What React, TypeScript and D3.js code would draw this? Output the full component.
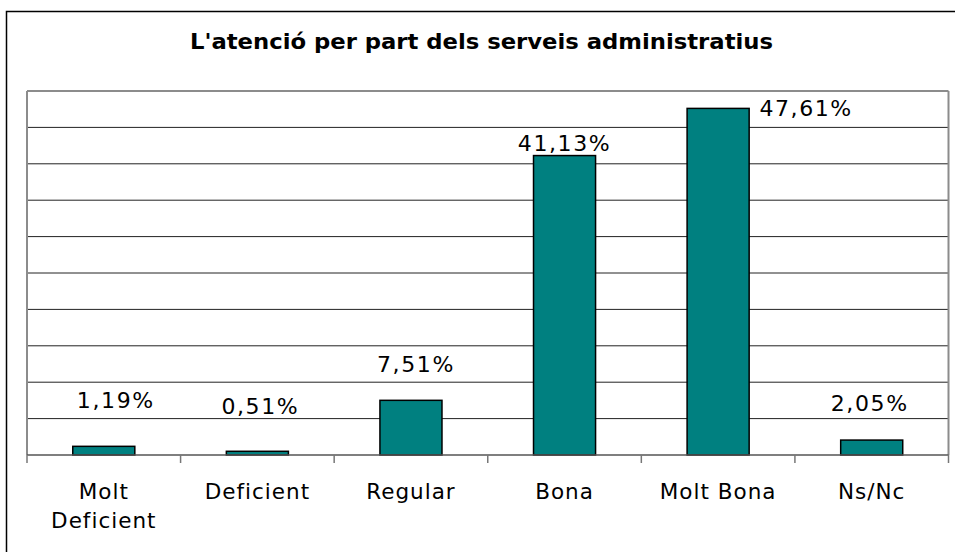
import React from "react";
import * as d3 from "d3";

const title = "L'atenció per part dels serveis administratius";
const categories = ["Molt Deficient", "Deficient", "Regular", "Bona", "Molt Bona", "Ns/Nc"];
const categoryLines = [["Molt", "Deficient"], ["Deficient"], ["Regular"], ["Bona"], ["Molt Bona"], ["Ns/Nc"]];
const values = [1.19, 0.51, 7.51, 41.13, 47.61, 2.05];
const valueLabels = ["1,19%", "0,51%", "7,51%", "41,13%", "47,61%", "2,05%"];
const gridTicks = [5, 10, 15, 20, 25, 30, 35, 40, 45];

// layout nudges for value labels (as placed in the original chart)
const labelDx = [12, 3, 5, 0, 88, -2];
const labelDy = [-38, -37, -28, -4.5, 8, -29];

const W = 955;
const H = 552;
const plot = { left: 27, right: 948.5, top: 91, bottom: 455 };

export default function App() {
  const x = d3
    .scaleBand<string>()
    .domain(categories)
    .range([plot.left, plot.right])
    .paddingInner(0.596)
    .paddingOuter(0.298);
  const y = d3.scaleLinear().domain([0, 50]).range([plot.bottom, plot.top]);
  const step = x.step();
  const font = "'DejaVu Sans', Verdana, sans-serif";

  return (
    <svg
      width={W}
      height={H}
      style={{ position: "absolute", left: 0, top: 0, background: "#fff" }}
    >
      <rect x={0} y={0} width={W} height={H} fill="#fff" />
      {/* outer chart frame */}
      <rect x={6.5} y={11.5} width={951} height={560} fill="none" stroke="#000" strokeWidth={1.5} />
      {/* title */}
      <text
        x={481.5}
        y={48.5}
        textAnchor="middle"
        fontFamily={font}
        fontWeight="bold"
        fontSize={21}
        textLength={583}
        lengthAdjust="spacingAndGlyphs"
        fill="#000"
      >
        {title}
      </text>
      {/* gridlines */}
      {gridTicks.map((t) => (
        <line
          key={t}
          x1={plot.left}
          x2={plot.right}
          y1={y(t)}
          y2={y(t)}
          stroke="#222"
          strokeWidth={1}
        />
      ))}
      {/* plot frame */}
      <line x1={plot.left} x2={plot.right} y1={plot.top} y2={plot.top} stroke="#8c8c8c" strokeWidth={2} />
      <line x1={plot.left} x2={plot.left} y1={plot.top} y2={plot.bottom} stroke="#8c8c8c" strokeWidth={2} />
      <line x1={plot.right} x2={plot.right} y1={plot.top} y2={plot.bottom} stroke="#8c8c8c" strokeWidth={2} />
      {/* bars */}
      {categories.map((c, i) => (
        <rect
          key={c}
          x={x(c)!}
          y={y(values[i])}
          width={x.bandwidth()}
          height={y(0) - y(values[i])}
          fill="#008080"
          stroke="#000"
          strokeWidth={1.5}
        />
      ))}
      {/* x axis */}
      <line x1={plot.left} x2={plot.right} y1={plot.bottom} y2={plot.bottom} stroke="#555" strokeWidth={1.5} />
      {d3.range(categories.length + 1).map((k) => {
        const tx = plot.left + k * step;
        return <line key={k} x1={tx} x2={tx} y1={plot.bottom} y2={plot.bottom + 8} stroke="#777" strokeWidth={1.5} />;
      })}
      {/* value labels */}
      {categories.map((c, i) => (
        <text
          key={c}
          x={x(c)! + x.bandwidth() / 2 + labelDx[i]}
          y={y(values[i]) + labelDy[i]}
          textAnchor="middle"
          fontFamily={font}
          fontSize={22}
          letterSpacing={1.6}
          fill="#000"
        >
          {valueLabels[i]}
        </text>
      ))}
      {/* category labels */}
      {categories.map((c, i) => (
        <text
          key={c}
          x={x(c)! + x.bandwidth() / 2}
          y={499}
          textAnchor="middle"
          fontFamily={font}
          fontSize={21.5}
          letterSpacing={1}
          fill="#000"
        >
          {categoryLines[i].map((ln, j) => (
            <tspan key={j} x={x(c)! + x.bandwidth() / 2} dy={j === 0 ? 0 : 29}>
              {ln}
            </tspan>
          ))}
        </text>
      ))}
    </svg>
  );
}
